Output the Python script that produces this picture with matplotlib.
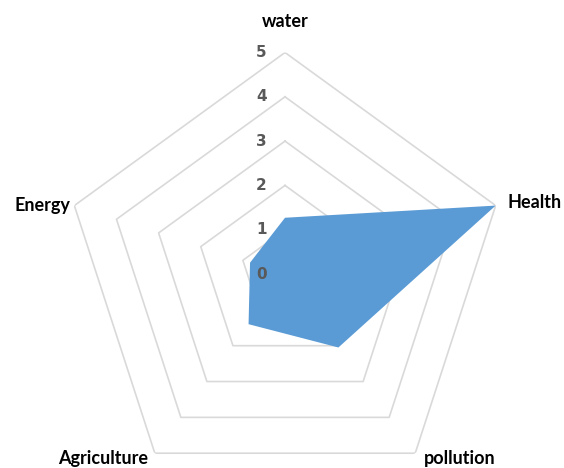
import numpy as np
import matplotlib.pyplot as plt

categories = ['water', 'Health', 'pollution', 'Agriculture', 'Energy']
values = [1.27, 5.0, 2.05, 1.4, 0.83]
ring_levels = [1, 2, 3, 4, 5]
tick_labels = ['0', '1', '2', '3', '4', '5']

n = len(categories)
angles = np.linspace(0, 2 * np.pi, n, endpoint=False)
closed_angles = np.append(angles, angles[0])

fig = plt.figure(figsize=(5.64, 4.68), dpi=100)
# centre at (285, 274) px, outer ring radius ~221.5 px
ax = fig.add_axes([0.1126, -0.0588, 0.7855, 0.9466], projection='polar')
ax.set_theta_offset(np.pi / 2)
ax.set_theta_direction(-1)
ax.set_ylim(0, 5)
ax.grid(False)
ax.spines['polar'].set_visible(False)
ax.set_xticks([])
ax.set_yticks([])
ax.patch.set_alpha(0)

# pentagon gridlines
for lvl in ring_levels:
    ax.plot(closed_angles, [lvl] * (n + 1), color='#d9d9d9', lw=1.2, zorder=1)

# data polygon
vals = values + values[:1]
ax.fill(closed_angles, vals, color='#5b9bd5', zorder=2, lw=0)

# radial value labels
for i, lab in enumerate(tick_labels):
    ax.annotate(lab, xy=(0, i), xytext=(-17, 0), textcoords='offset points',
                ha='center', va='center', fontsize=11, fontweight='bold',
                color='#595959', family='DejaVu Sans', zorder=3)

# category labels
offsets = {
    'water': ((0, 22), 'center', 'center'),
    'Health': ((8.5, 2), 'left', 'center'),
    'pollution': ((6, -4), 'left', 'center'),
    'Agriculture': ((-5, -4), 'right', 'center'),
    'Energy': ((-3, 0), 'right', 'center'),
}
for ang, cat in zip(angles, categories):
    off, ha, va = offsets[cat]
    ax.annotate(cat, xy=(ang, 5), xytext=off, textcoords='offset points',
                ha=ha, va=va, fontsize=13, fontweight='bold', color='black',
                family='Lato', annotation_clip=False)

fig.savefig('out.png', dpi=100)
